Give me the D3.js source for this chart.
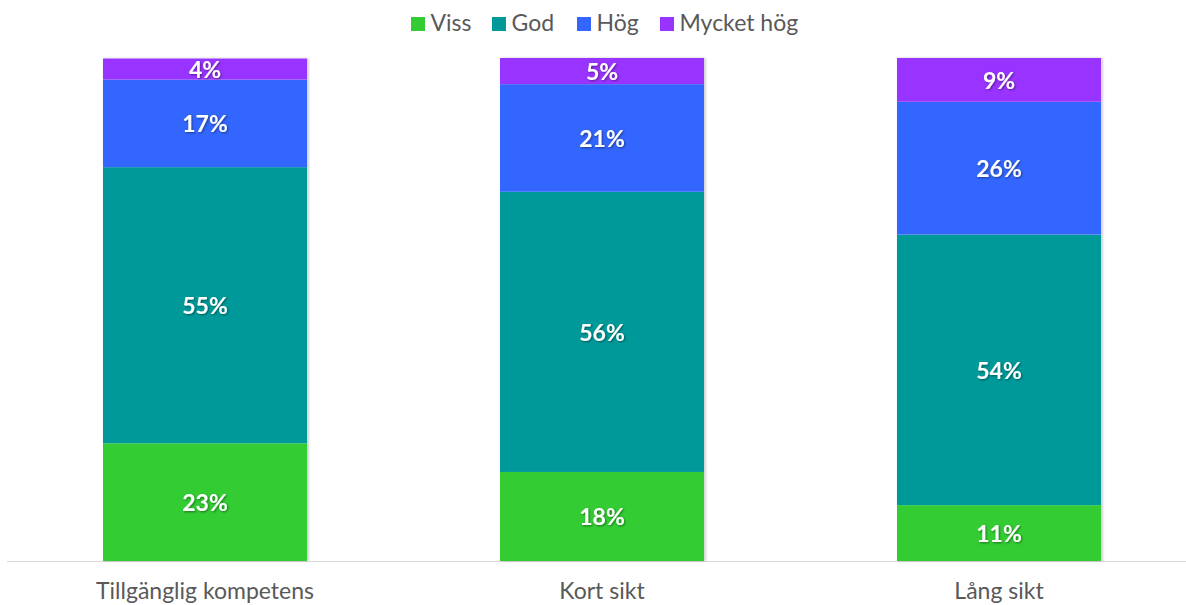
<!DOCTYPE html>
<html><head><meta charset="utf-8">
<script src="https://cdn.jsdelivr.net/npm/d3@7"></script>
<style>
html,body{margin:0;padding:0;background:#fff;}
svg{display:block;font-family:Lato,"Open Sans",sans-serif;}
</style></head>
<body>
<svg id="chart" width="1186" height="605"></svg>
<script>
const categories = ["Tillgänglig kompetens", "Kort sikt", "Lång sikt"];
const seriesNames = ["Viss", "God", "Hög", "Mycket hög"];
const viss = [23.4, 17.7, 11.1];
const god = [54.9, 55.7, 53.8];
const hog = [17.4, 21.4, 26.4];
const mycketHog = [4.2, 5.2, 8.7];
const colors = ["#33CC33", "#009999", "#3366FF", "#9933FF"];

const rows = categories.map((c, i) => ({cat: c, "Viss": viss[i], "God": god[i], "Hög": hog[i], "Mycket hög": mycketHog[i]}));
const stack = d3.stack().keys(seriesNames)(rows);

const svg = d3.select("#chart");
const x = d3.scaleBand().domain(categories).range([6.5, 1197.5]).paddingInner(0.486).paddingOuter(0.243);
const y = d3.scaleLinear().domain([0, 100]).range([561, 58]);
const color = d3.scaleOrdinal().domain(seriesNames).range(colors);

const defs = svg.append("defs");
const f = defs.append("filter").attr("id","shadow").attr("x","-10%").attr("y","-10%").attr("width","130%").attr("height","130%");
f.append("feDropShadow").attr("dx",1.5).attr("dy",0).attr("stdDeviation",1.2).attr("flood-color","#000").attr("flood-opacity",0.25);
const tf = defs.append("filter").attr("id","tshadow").attr("x","-20%").attr("y","-20%").attr("width","140%").attr("height","140%");
tf.append("feDropShadow").attr("dx",1).attr("dy",1).attr("stdDeviation",0.8).attr("flood-color","#000").attr("flood-opacity",0.45);

// axis line
const xAxis = d3.axisBottom(x).tickSize(0).tickPadding(22);
const ax = svg.append("g").attr("transform", "translate(0,561)").call(xAxis);
ax.select(".domain").attr("stroke", "#d9d9d9").attr("stroke-width", 1).attr("d", "M7,0.5H1186");
ax.selectAll("text").attr("font-size", 23).attr("fill", "#595959").attr("font-family", "Lato, 'Open Sans', sans-serif").attr("dy", "0.71em");

// bars with shadow
const barGroups = svg.append("g");
categories.forEach((c, i) => {
  const tot = viss[i]+god[i]+hog[i]+mycketHog[i];
  barGroups.append("rect").attr("x", x(c)).attr("y", y(tot)).attr("width", x.bandwidth()).attr("height", 561 - y(tot)).attr("fill", "#fff").attr("filter", "url(#shadow)");
});

const layers = svg.append("g").selectAll("g").data(stack).join("g").attr("fill", d => color(d.key));
layers.selectAll("rect").data(d => d).join("rect")
  .attr("x", d => x(d.data.cat))
  .attr("y", d => y(d[1]))
  .attr("width", x.bandwidth())
  .attr("height", d => y(d[0]) - y(d[1]));

const labels = svg.append("g");
stack.forEach(s => {
  s.forEach(d => {
    labels.append("text")
      .attr("x", x(d.data.cat) + x.bandwidth() / 2)
      .attr("y", (y(d[0]) + y(d[1])) / 2 + 3)
      .attr("text-anchor", "middle")
      .attr("dominant-baseline", "middle")
      .attr("font-size", 23)
      .attr("font-weight", "bold")
      .attr("fill", "#fff")
      .attr("filter", "url(#tshadow)")
      .text(Math.round(d[1] - d[0]) + "%");
  });
});

// legend
const legendX = [411, 492, 577, 660];
const lg = svg.append("g");
seriesNames.forEach((n, i) => {
  const g = lg.append("g").attr("transform", `translate(${legendX[i]},0)`);
  g.append("rect").attr("x", 0).attr("y", 17).attr("width", 14).attr("height", 14).attr("fill", colors[i]);
  g.append("text").attr("x", 19.5).attr("y", 31).attr("font-size", 23).attr("fill", "#595959").text(n);
});
</script>
</body></html>
